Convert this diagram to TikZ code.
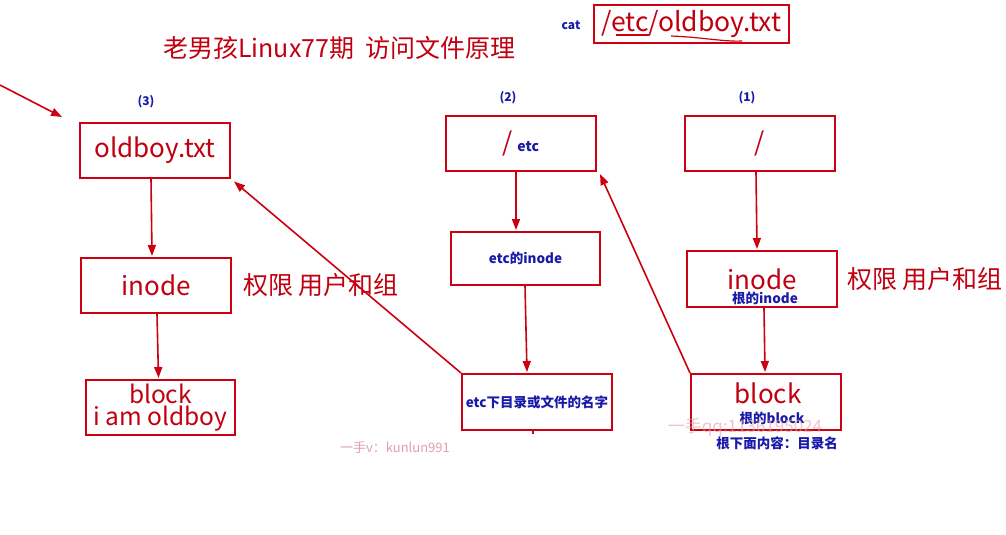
\documentclass[tikz,border=0pt]{standalone}
\usepackage{fontspec}
\setmainfont{Noto Sans CJK SC}
\newfontfamily\cjk{Noto Sans CJK SC}
\usetikzlibrary{arrows.meta,calc}
\definecolor{dred}{HTML}{C00010}
\definecolor{bred}{HTML}{CC0010}
\definecolor{dblue}{HTML}{1A1AA8}
\definecolor{wm}{HTML}{E0A0A8}
\tikzset{
  rbox/.style={draw=bred, line width=2pt, minimum width=150pt, minimum height=55pt, inner sep=0pt, text=dred, font=\cjk\fontsize{26}{28}\selectfont, align=center},
  lbl/.style={text=dblue, font=\cjk\bfseries\fontsize{13.5}{15}\selectfont, inner sep=0pt},
  num/.style={text=dblue, font=\cjk\bfseries\fontsize{12}{13}\selectfont, inner sep=0pt},
  note/.style={text=dred, font=\cjk\fontsize{25}{27}\selectfont, inner sep=0pt, anchor=west},
  arr/.style={draw=bred, line width=1.6pt, -{Triangle[length=11pt,width=8pt]}},
}
\begin{document}
\begin{tikzpicture}[x=1pt,y=-1pt]
\useasboundingbox[fill=white] (0,0) rectangle (1006,535);
% header
\node[num] (cat) at (571,25) {cat};
\node[draw=bred, line width=2pt, minimum width=195pt, minimum height=38pt, inner sep=0pt, text=dred, font=\cjk\fontsize{26.5}{28}\selectfont] (path) at (691.5,24) {/etc/oldboy.txt};
\coordinate (u1) at (616,35);
\coordinate (u2) at (649,35);
\draw[bred, line width=1.2pt] (u1) -- (u2);
\coordinate (c1) at (671,36);
\coordinate (c2) at (742,41);
\draw[bred, line width=1.2pt] (c1) .. controls (700,37) and (725,42) .. (c2);
\node[text=dred, font=\cjk\fontsize{25}{27}\selectfont, inner sep=0pt, anchor=west] (title) at (163,48) {老男孩Linux77期\ \ 访问文件原理};
% column 3
\node[num] (n3) at (146,102) {(3)};
\node[rbox] (o3) at (155,150) {oldboy.txt};
\node[rbox] (i3) at (156,285.5) {inode};
\node[rbox, minimum width=149pt, font=\cjk\fontsize{24.5}{22}\selectfont] (b3) at (160.5,407.5) {block\\i am oldboy};
\node[note] (p3) at (243,285) {权限 用户和组};
\coordinate (s0) at (0,85);
\coordinate (s1) at (62,117);
\draw[arr] (s0) -- (s1);
\draw[arr] ($(o3.south)+(-4,0)$) -- ($(i3.north)+(-4,-1)$);
\draw[arr] ($(i3.south)+(1,0)$) -- ($(b3.north)+(-2,-1)$);
% column 2
\node[num] (n2) at (508,98) {(2)};
\node[rbox] (e2) at (521,143.5) {\textcolor{dred}{/}\,{\bfseries\fontsize{14}{15}\selectfont\textcolor{dblue}{etc}}};
\node[rbox, minimum width=149pt, minimum height=53pt] (ei2) at (525.5,258.5) {};
\node[lbl] at (ei2.center) {etc的inode};
\node[rbox, minimum height=56pt] (en2) at (537,402) {};
\node[lbl] at (en2.center) {etc下目录或文件的名字};
\draw[arr] ($(e2.south)+(-5,0)$) -- ($(ei2.north)+(-9.5,-1)$);
\draw[arr] ($(ei2.south)+(-0.5,0)$) -- ($(en2.north)+(-10,-1)$);
\coordinate (t2) at (533,434);
\draw[bred, line width=1.2pt] ($(en2.south)+(-4,0)$) -- (t2);
\draw[arr] (en2.north west) -- ($(o3.south east)+(3,3)$);
% column 1
\node[num] (n1) at (747,98) {(1)};
\node[rbox] (r1) at (760,143.5) {/};
\node[rbox, minimum height=56pt] (ri1) at (762,279) {};
\node[text=dred, font=\cjk\fontsize{26}{28}\selectfont, inner sep=0pt] (ri1t) at (762,279) {inode};
\node[lbl] (ri1l) at (765,298) {根的inode};
\node[note] (p1) at (847,279) {权限 用户和组};
\node[rbox, minimum height=56pt] (rb1) at (766,402) {};
\node[text=dred, font=\cjk\fontsize{26}{28}\selectfont, inner sep=0pt] (rb1t) at (768,393) {block};
\node[lbl] (rb1l) at (772,418) {根的block};
\node[lbl] (rb1n) at (777,443) {根下面内容：目录名};
\draw[arr] ($(r1.south)+(-4,0)$) -- ($(ri1.north)+(-5,-1)$);
\draw[arr] ($(ri1.south)+(2,0)$) -- ($(rb1.north)+(-1,-1)$);
\draw[arr] (rb1.north west) -- ($(e2.south east)+(3,2)$);
% watermarks
\node[text=wm, font=\cjk\fontsize{13}{14}\selectfont, inner sep=0pt] (w1) at (395,448) {一手v：kunlun991};
\node[text=wm, opacity=0.6, font=\cjk\fontsize{17}{18}\selectfont, inner sep=0pt] (w2) at (745,427) {一手qq:1136195024};
\end{tikzpicture}
\end{document}
